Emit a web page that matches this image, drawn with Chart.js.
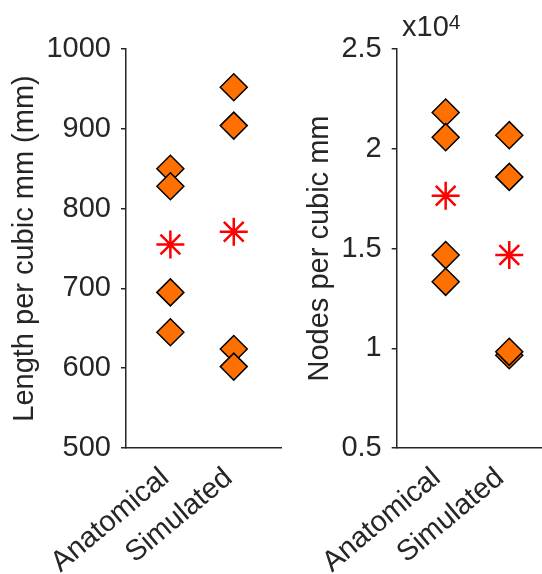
<!DOCTYPE html>
<html>
<head>
<meta charset="utf-8">
<script src="https://cdn.jsdelivr.net/npm/chart.js@4"></script>
<style>
  html, body { margin:0; padding:0; background:#fff; }
  #wrap { position:relative; width:542px; height:574px; }
  #wrap canvas { position:absolute; top:0; }
</style>
</head>
<body>
<div id="wrap">
  <canvas id="chart-length" width="290" height="574" style="left:0"></canvas>
  <canvas id="chart-nodes" width="252" height="574" style="left:290px"></canvas>
</div>
<script>
// Groups on the x axis
const groups = ['Anatomical', 'Simulated'];

// Length per cubic mm (mm), one value per sample
const lengthAnatomical = [850, 828, 695, 645];
const lengthSimulated  = [952, 904, 624, 602];
const lengthMeans      = [755, 771];

// Nodes per cubic mm, one value per sample
const nodesAnatomical = [21820, 20580, 14670, 13330];
const nodesSimulated  = [20680, 18590, 9650, 9820];
const nodesMeans      = [17640, 14670];

// y tick values
const lengthTicks = [500, 600, 700, 800, 900, 1000];
const nodesTicks  = [5000, 10000, 15000, 20000, 25000];

const INK = '#262626';
const FONT = 'Liberation Sans, Arial, Helvetica, sans-serif';
const FS = 29;
const ORANGE = '#ff7000';

const pts = (x, vals) => vals.map(v => ({ x, y: v }));

function datasets(anat, sim, means) {
  const diamond = {
    pointStyle: 'rectRot', pointRadius: 13.5, pointHoverRadius: 13.5,
    backgroundColor: ORANGE, borderColor: '#000', borderWidth: 1.5
  };
  return [
    { ...diamond, data: pts(1, anat) },
    { ...diamond, data: pts(2, sim) },
    {
      data: means.map((m, i) => ({ x: i + 1, y: m })),
      pointStyle: 'star', pointRadius: 14, pointHoverRadius: 14,
      borderColor: '#ff0000', backgroundColor: '#ff0000', borderWidth: 2.5
    }
  ];
}

function makeChart(id, cfg) {
  return new Chart(document.getElementById(id), {
    type: 'scatter',
    data: { datasets: datasets(cfg.anat, cfg.sim, cfg.means) },
    options: {
      responsive: false,
      animation: false,
      events: [],
      layout: { autoPadding: false, padding: { top: 49, right: cfg.padRight, bottom: 0, left: 0 } },
      plugins: { legend: { display: false }, tooltip: { enabled: false } },
      scales: {
        x: {
          type: 'linear', min: cfg.xMin, max: cfg.xMax,
          afterBuildTicks: s => { s.ticks = groups.map((g, i) => ({ value: i + 1 })); },
          afterFit: s => { s.height = 126; s.paddingLeft = 0; s.paddingRight = 0; },
          grid: { display: false },
          border: { display: true, color: INK, width: 1.5 },
          ticks: {
            minRotation: 40, maxRotation: 40, padding: 5, labelOffset: cfg.labelShift,
            color: INK, font: { family: FONT, size: FS },
            callback: v => groups[v - 1] || ''
          }
        },
        y: {
          min: cfg.yMin, max: cfg.yMax,
          afterBuildTicks: s => { s.ticks = cfg.ticks.map(v => ({ value: v })); },
          afterFit: s => { s.width = cfg.yWidth; },
          grid: { display: true, drawOnChartArea: false, drawTicks: true, tickLength: 5, color: INK, lineWidth: 1.5 },
          border: { display: true, color: INK, width: 1.5 },
          ticks: {
            padding: 10, color: INK, font: { family: FONT, size: FS },
            callback: cfg.tickFmt
          },
          title: {
            display: true, text: cfg.title, color: INK,
            font: { family: FONT, size: FS },
            padding: { top: cfg.titlePad, bottom: 0 }
          }
        }
      }
    },
    plugins: cfg.plugins || []
  });
}

// exponent label above the nodes axis
const exponentLabel = {
  id: 'exponentLabel',
  afterDraw(chart) {
    const { ctx } = chart;
    ctx.save();
    ctx.fillStyle = INK;
    ctx.textBaseline = 'alphabetic';
    ctx.font = FS + 'px ' + FONT;
    ctx.fillText('x10', 112, 36);
    const w = ctx.measureText('x10').width;
    ctx.font = '21px ' + FONT;
    ctx.fillText('4', 112 + w, 29);
    ctx.restore();
  }
};

makeChart('chart-length', {
  anat: lengthAnatomical, sim: lengthSimulated, means: lengthMeans,
  xMin: 0.3, xMax: 2.75, yMin: 500, yMax: 1000, ticks: lengthTicks,
  yWidth: 126, padRight: 8.7, titlePad: 8, labelShift: -5,
  title: 'Length per cubic mm (mm)',
  tickFmt: v => String(v)
});

makeChart('chart-nodes', {
  anat: nodesAnatomical, sim: nodesSimulated, means: nodesMeans,
  xMin: 0.23, xMax: 2.51, yMin: 5000, yMax: 25000, ticks: nodesTicks,
  yWidth: 106.7, padRight: 0.3, titlePad: 13, labelShift: -9,
  title: 'Nodes per cubic mm',
  tickFmt: v => String(v / 10000),
  plugins: [exponentLabel]
});
</script>
</body>
</html>
